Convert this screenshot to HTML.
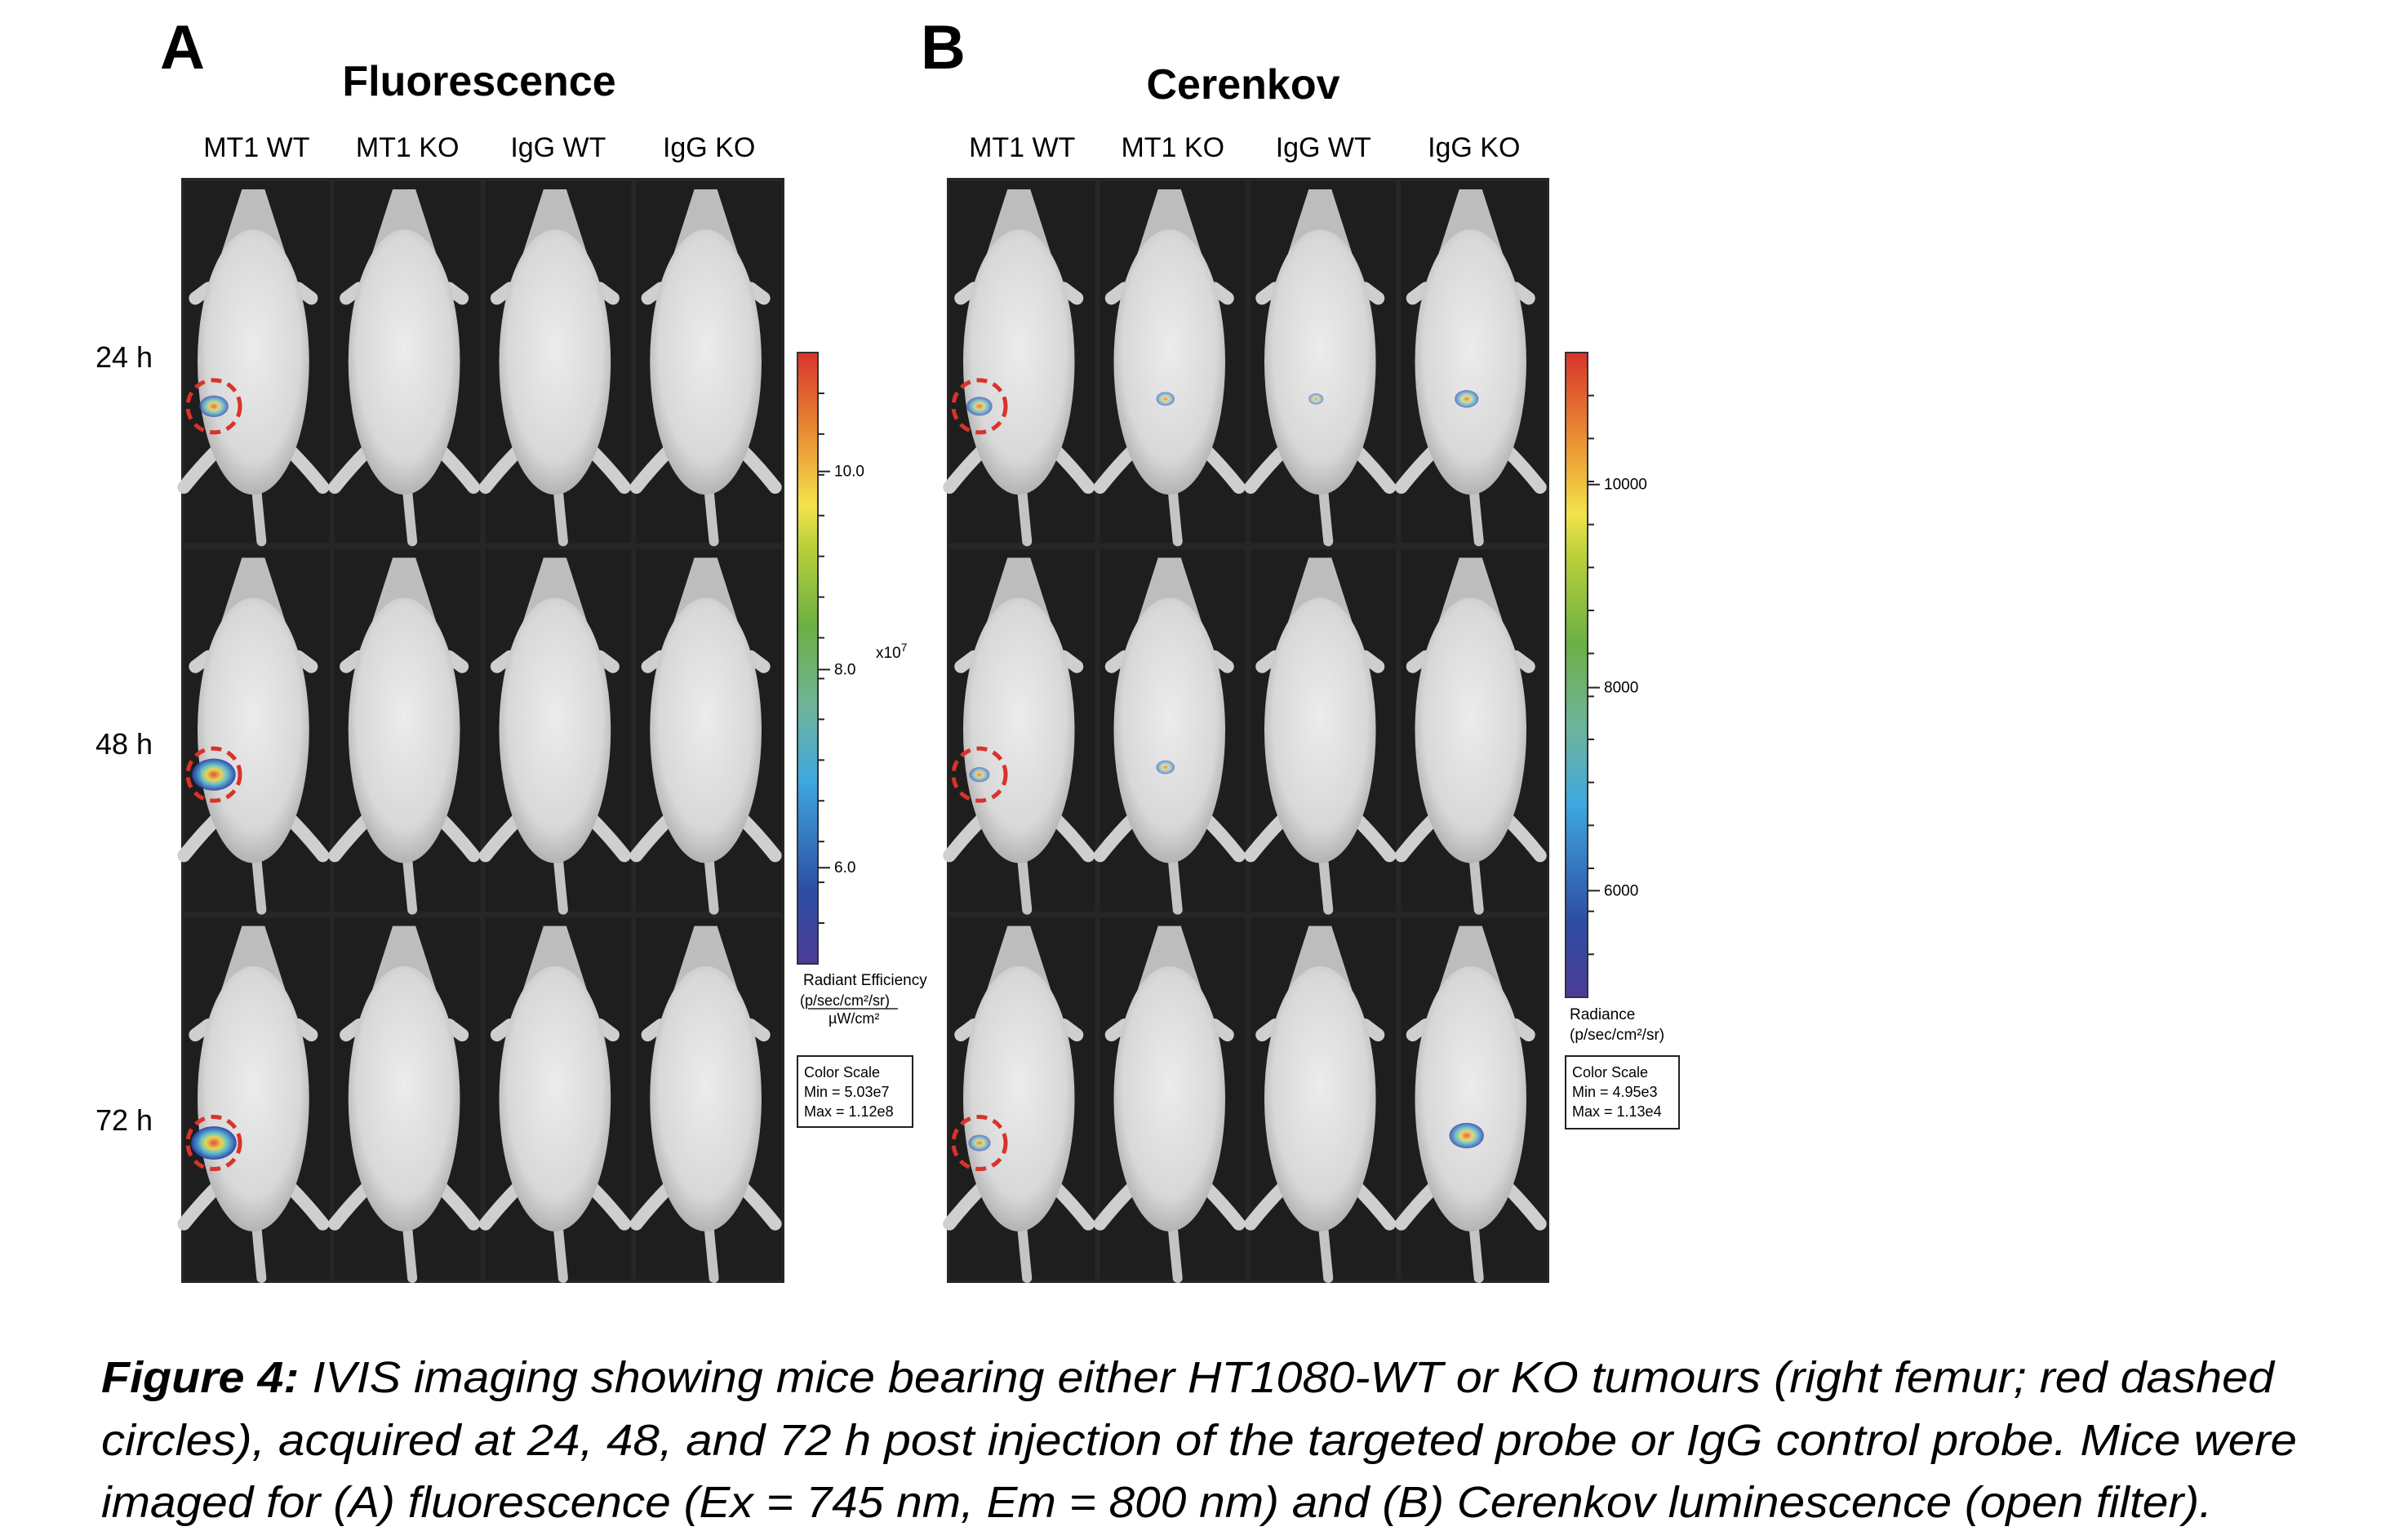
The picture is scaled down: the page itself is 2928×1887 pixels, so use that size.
<!DOCTYPE html>
<html><head><meta charset="utf-8">
<style>
html,body{margin:0;padding:0;background:#fff;}
body{width:2928px;height:1882px;overflow:hidden;font-family:"Liberation Sans",sans-serif;}
svg text{font-family:"Liberation Sans",sans-serif;}
</style></head>
<body>
<svg id="fig" width="2928" height="1882" viewBox="0 0 2928 1882" xmlns="http://www.w3.org/2000/svg">
<defs>
<linearGradient id="jet" x1="0" y1="1" x2="0" y2="0">
<stop offset="0" stop-color="#4b3b96"/><stop offset="0.12" stop-color="#2d4ea3"/>
<stop offset="0.3" stop-color="#3fa8e0"/><stop offset="0.42" stop-color="#6fb49a"/>
<stop offset="0.55" stop-color="#6cb043"/><stop offset="0.68" stop-color="#b7cf3a"/>
<stop offset="0.75" stop-color="#f3e34a"/><stop offset="0.85" stop-color="#eb9a35"/>
<stop offset="1" stop-color="#d9342b"/></linearGradient>
<radialGradient id="fur" cx="0.5" cy="0.45" r="0.6">
<stop offset="0" stop-color="#ececec"/><stop offset="0.7" stop-color="#d8d8d8"/><stop offset="1" stop-color="#a5a5a5"/></radialGradient>
<radialGradient id="hot" cx="0.5" cy="0.5" r="0.5">
<stop offset="0" stop-color="#e8432e"/><stop offset="0.35" stop-color="#e9d64a"/><stop offset="0.6" stop-color="#5fc0c8"/><stop offset="1" stop-color="#2540b0"/></radialGradient>
</defs>
<g id="textLayer">
<text x="196" y="84" font-size="76" font-weight="bold">A</text>
<text x="1128" y="84" font-size="76" font-weight="bold">B</text>
<text x="587" y="117" font-size="52" font-weight="bold" text-anchor="middle">Fluorescence</text>
<text x="1523" y="121" font-size="52" font-weight="bold" text-anchor="middle">Cerenkov</text>
<text x="117" y="450" font-size="36">24 h</text>
<text x="117" y="924" font-size="36">48 h</text>
<text x="117" y="1385" font-size="36">72 h</text>
<text x="124" y="1706" font-size="54" font-style="italic" textLength="2662" lengthAdjust="spacingAndGlyphs"><tspan font-weight="bold">Figure 4:</tspan> IVIS imaging showing mice bearing either HT1080-WT or KO tumours (right femur; red dashed</text>
<text x="124" y="1783" font-size="54" font-style="italic" textLength="2690" lengthAdjust="spacingAndGlyphs">circles), acquired at 24, 48, and 72 h post injection of the targeted probe or IgG control probe. Mice were</text>
<text x="124" y="1859" font-size="54" font-style="italic" textLength="2586" lengthAdjust="spacingAndGlyphs">imaged for (A) fluorescence (Ex = 745 nm, Em = 800 nm) and (B) Cerenkov luminescence (open filter).</text>
</g>
<g id="panels"></g>
<g id="bars"></g>
</svg>
<script>
const groups = ["MT1 WT","MT1 KO","IgG WT","IgG KO"];
const timepoints = ["24 h","48 h","72 h"];
const fluorTicks = ["10.0","8.0","6.0"];
const fluorTickValues = [10.0,8.0,6.0];
const cerTicks = ["10000","8000","6000"];
const cerTickValues = [10000,8000,6000];
const fluorMin = 5.03, fluorMax = 11.2;
const cerMin = 4950, cerMax = 11300;
const fluorSignal = [[0.45,0,0,0],[0.85,0,0,0],[0.9,0,0,0]];
const cerSignal = [[0.35,0.15,0.05,0.3],[0.2,0.15,0,0],[0.25,0,0,0.6]];

const NS="http://www.w3.org/2000/svg";
function el(tag, attrs, parent){const e=document.createElementNS(NS,tag);for(const k in attrs)e.setAttribute(k,attrs[k]);if(parent)parent.appendChild(e);return e;}
const panelsG=document.getElementById('panels');
const barsG=document.getElementById('bars');

function drawPanel(name, x0, x1, y0, y1, signal){
  const g=el('g',{},panelsG);
  
  
  el('rect',{x:x0,y:y0,width:x1-x0,height:y1-y0,fill:'#262626'},g);
  const cw=(x1-x0)/groups.length, rh=(y1-y0)/timepoints.length;
  groups.forEach((lab,c)=>{
    const t=el('text',{x:x0+cw*(c+0.5),y:192,'font-size':34,'text-anchor':'middle'},panelsG);
    t.textContent=lab;
    
    
  });
  timepoints.forEach((tp,r)=>{
    groups.forEach((gp,c)=>{
      const cx=x0+cw*(c+0.5)-4, top=y0+rh*r;
      const m=el('g',{},g);
      
      
      el('rect',{x:x0+cw*c+3,y:top+4,width:cw-6,height:rh-8,fill:'#1e1e1e'},m);
      el('path',{d:`M${cx+2} ${top+rh*0.8} Q ${cx+6} ${top+rh*0.9} ${cx+10} ${top+rh-6}`,stroke:'#c4c4c4','stroke-width':12,fill:'none','stroke-linecap':'round'},m);
      el('path',{d:`M${cx-45} ${top+rh*0.74} q-20 20 -40 45 M${cx+45} ${top+rh*0.74} q20 20 40 45 M${cx-55} ${top+rh*0.3} l-16 12 M${cx+55} ${top+rh*0.3} l16 12`,stroke:'#cfcfcf','stroke-width':16,fill:'none','stroke-linecap':'round'},m);
      el('path',{d:`M${cx-14} ${top+14} L${cx+14} ${top+14} L${cx+48} ${top+120} L${cx-48} ${top+120} Z`,fill:'#bdbdbd'},m);
      el('ellipse',{cx:cx,cy:top+rh*0.5,rx:cw*0.37,ry:rh*0.36,fill:'url(#fur)'},m);
      const s=signal[r][c];
      if(s>0){
        const hx = c===0 ? x0+cw*c+40 : cx-5, hy = c===0 ? top+rh*0.62 : top+rh*0.6;
        const sp=el('ellipse',{cx:hx,cy:hy,rx:8+22*s,ry:6+16*s,fill:'url(#hot)',opacity:0.5+0.5*s},m);
        
        
      }
      if(c===0){
        const ci=el('circle',{cx:x0+cw*c+40,cy:top+rh*0.62,r:32,fill:'none',stroke:'#d8332a','stroke-width':5,'stroke-dasharray':'13 8'},m);
        
        
      }
    });
  });
}
drawPanel('fluorescence',222,961,218,1572,fluorSignal);
drawPanel('cerenkov',1160,1898,218,1572,cerSignal);

function drawBar(name,x,y0,y1,w,ticks,vals,vmin,vmax,minorN){
  const g=el('g',{},barsG);
  
  
  el('rect',{x:x,y:y0,width:w,height:y1-y0,fill:'url(#jet)',stroke:'#333','stroke-width':2},g);
  const yOf=v=>y1-(v-vmin)/(vmax-vmin)*(y1-y0);
  for(let i=1;i<minorN;i++){const yy=y0+(y1-y0)*i/minorN;el('line',{x1:x+w,x2:x+w+8,y1:yy,y2:yy,stroke:'#222','stroke-width':2},g);}
  vals.forEach((v,i)=>{
    const yy=yOf(v);
    el('line',{x1:x+w,x2:x+w+15,y1:yy,y2:yy,stroke:'#222','stroke-width':2},g);
    const t=el('text',{x:x+w+20,y:yy+6,'font-size':19},g);
    t.textContent=ticks[i];
    
    
  });
  return yOf;
}
drawBar('fluorescence',977,432,1181,25,fluorTicks,fluorTickValues,fluorMin,fluorMax,15);
drawBar('cerenkov',1918,432,1222,27,cerTicks,cerTickValues,cerMin,cerMax,15);

function txt(s,x,y,fs,name){const t=el('text',{x:x,y:y,'font-size':fs},barsG);t.textContent=s;
  
  return t;}
txt('x10',1073,806,19,'exponent-label').innerHTML='x10<tspan font-size="14" dy="-8">7</tspan>';
txt('Radiant Efficiency',984,1207,19,'fluorescence-unit-label');
txt('(p/sec/cm²/sr)',980,1232,18,'fluorescence-unit-numerator');
el('line',{x1:990,x2:1100,y1:1236,y2:1236,stroke:'#222','stroke-width':1.5},barsG);
txt('µW/cm²',1015,1254,18,'fluorescence-unit-denominator');
el('rect',{x:977,y:1294,width:141,height:87,fill:'#fff',stroke:'#222','stroke-width':2},barsG);
txt('Color Scale',985,1320,18,'fluorescence-color-scale');
txt('Min = 5.03e7',985,1344,18,'fluorescence-min');
txt('Max = 1.12e8',985,1368,18,'fluorescence-max');
txt('Radiance',1923,1249,19,'cerenkov-unit-label');
txt('(p/sec/cm²/sr)',1923,1274,19,'cerenkov-unit');
el('rect',{x:1918,y:1294,width:139,height:89,fill:'#fff',stroke:'#222','stroke-width':2},barsG);
txt('Color Scale',1926,1320,18,'cerenkov-color-scale');
txt('Min = 4.95e3',1926,1344,18,'cerenkov-min');
txt('Max = 1.13e4',1926,1368,18,'cerenkov-max');
</script>
</body></html>
